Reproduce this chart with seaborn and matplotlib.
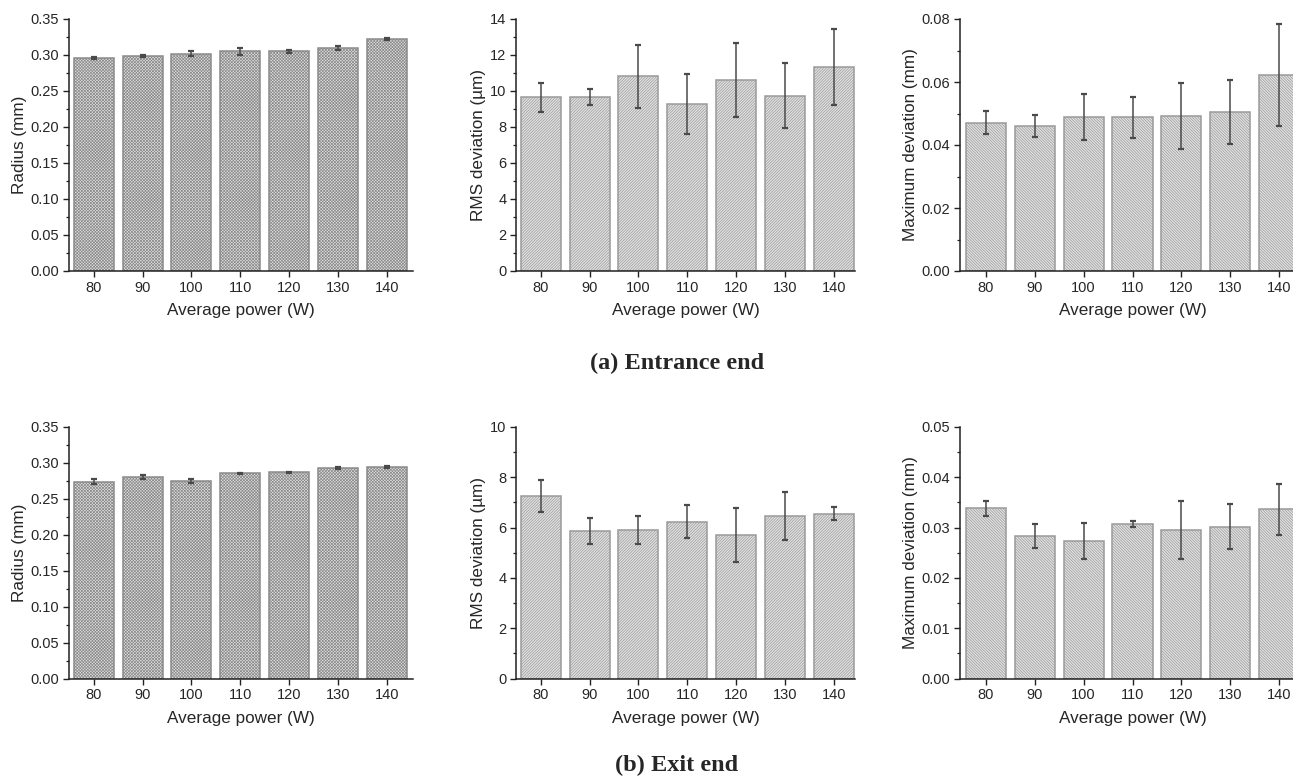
import numpy as np
import pandas as pd
import matplotlib
matplotlib.use("Agg")
import matplotlib.pyplot as plt
from matplotlib.ticker import AutoMinorLocator, MultipleLocator, FormatStrFormatter
import seaborn as sns

# ---------------- data ----------------
power = ["80", "90", "100", "110", "120", "130", "140"]

entr_radius = [0.2957, 0.2985, 0.3020, 0.3050, 0.3050, 0.3100, 0.3226]
entr_radius_err = [0.0010, 0.0018, 0.0030, 0.0044, 0.0022, 0.0030, 0.0015]
entr_rms = [9.65, 9.65, 10.82, 9.28, 10.62, 9.75, 11.34]
entr_rms_err = [0.80, 0.45, 1.76, 1.67, 2.04, 1.80, 2.10]
entr_max = [0.0471, 0.0460, 0.0489, 0.0488, 0.0493, 0.0504, 0.0621]
entr_max_err = [0.0037, 0.0034, 0.0072, 0.0065, 0.0105, 0.0101, 0.0162]

exit_radius = [0.2740, 0.2800, 0.2750, 0.2856, 0.2870, 0.2930, 0.2944]
exit_radius_err = [0.0040, 0.0030, 0.0030, 0.0010, 0.0007, 0.0020, 0.0008]
exit_rms = [7.27, 5.86, 5.90, 6.23, 5.70, 6.46, 6.56]
exit_rms_err = [0.64, 0.53, 0.55, 0.65, 1.08, 0.96, 0.26]
exit_max = [0.0338, 0.0283, 0.0273, 0.0307, 0.0295, 0.0302, 0.0336]
exit_max_err = [0.0015, 0.0024, 0.0036, 0.0006, 0.0057, 0.0044, 0.0050]

xlabel = "Average power (W)"
ylabel_radius = "Radius (mm)"
ylabel_rms = "RMS deviation (\u00b5m)"
ylabel_max = "Maximum deviation (mm)"
caption_a = "(a) Entrance end"
caption_b = "(b) Exit end"

# ---------------- style ----------------
sns.set_style("ticks")
plt.rcParams["font.family"] = ["Liberation Sans", "DejaVu Sans"]
plt.rcParams["hatch.linewidth"] = 0.5
plt.rcParams["axes.linewidth"] = 1.1

fig = plt.figure(figsize=(12.93, 7.79), dpi=100)
W, H = 1293.0, 779.0


def make_ax(left_px, right_px, top_px, bottom_px):
    return fig.add_axes([left_px / W, 1 - bottom_px / H,
                         (right_px - left_px) / W, (bottom_px - top_px) / H])


def panel(ax, vals, errs, ylabel, ymax, major, fmt, hatch, xlim, edge):
    df = pd.DataFrame({"power": power, "val": vals})
    sns.barplot(data=df, x="power", y="val", ax=ax, order=power,
                width=0.82, color="#e2e2e2", edgecolor=edge,
                linewidth=1.1, hatch=hatch, errorbar=None, saturation=1)
    for p in ax.patches:
        p.set_facecolor("#e2e2e2")
        p.set_edgecolor(edge)
    ax.errorbar(np.arange(len(power)), vals, yerr=errs, fmt="none",
                ecolor="#4a4a4a", elinewidth=1.1, capsize=2.0, capthick=1.6)
    ax.set_ylim(0, ymax)
    ax.set_xlim(*xlim)
    ax.yaxis.set_major_locator(MultipleLocator(major))
    ax.yaxis.set_minor_locator(AutoMinorLocator(2))
    ax.yaxis.set_major_formatter(FormatStrFormatter(fmt))
    ax.tick_params(axis="both", which="major", length=4, width=1.0,
                   labelsize=10.5, pad=3, color="#222222")
    ax.tick_params(axis="y", which="minor", length=2.5, width=0.9, color="#222222")
    ax.set_xlabel(xlabel, fontsize=12.3, labelpad=6)
    ax.set_ylabel(ylabel, fontsize=12.3, labelpad=2.5)
    sns.despine(ax=ax)
    for s in ("left", "bottom"):
        ax.spines[s].set_color("#222222")


rows = [(19, 271), (427, 678.5)]
cols = [(69, 413, (-0.51, 6.54)), (516, 855, (-0.505, 6.43)), (960, 1305, (-0.53, 6.53))]

data = [
    [(entr_radius, entr_radius_err, ylabel_radius, 0.35, 0.05, "%.2f", "x" * 11, "#8a8a8a"),
     (entr_rms, entr_rms_err, ylabel_rms, 14, 2, "%d", "/" * 12, "#9a9a9a"),
     (entr_max, entr_max_err, ylabel_max, 0.08, 0.02, "%.2f", "\\" * 12, "#9a9a9a")],
    [(exit_radius, exit_radius_err, ylabel_radius, 0.35, 0.05, "%.2f", "x" * 11, "#8a8a8a"),
     (exit_rms, exit_rms_err, ylabel_rms, 10, 2, "%d", "/" * 12, "#9a9a9a"),
     (exit_max, exit_max_err, ylabel_max, 0.05, 0.01, "%.2f", "\\" * 12, "#9a9a9a")],
]

for r, (top, bot) in enumerate(rows):
    for c, (l, rgt, xl) in enumerate(cols):
        vals, errs, yl, ymax, major, fmt, hatch, edge = data[r][c]
        ax = make_ax(l, rgt, top, bot)
        panel(ax, vals, errs, yl, ymax, major, fmt, hatch, xl, edge)

fig.text(677 / W, 1 - 363 / H, caption_a, ha="center", va="center",
         fontsize=17.5, fontweight="bold", family=["Liberation Serif", "DejaVu Serif"])
fig.text(677 / W, 1 - 765 / H, caption_b, ha="center", va="center",
         fontsize=17.5, fontweight="bold", family=["Liberation Serif", "DejaVu Serif"])

fig.savefig("out.png", dpi=100, facecolor="white")
